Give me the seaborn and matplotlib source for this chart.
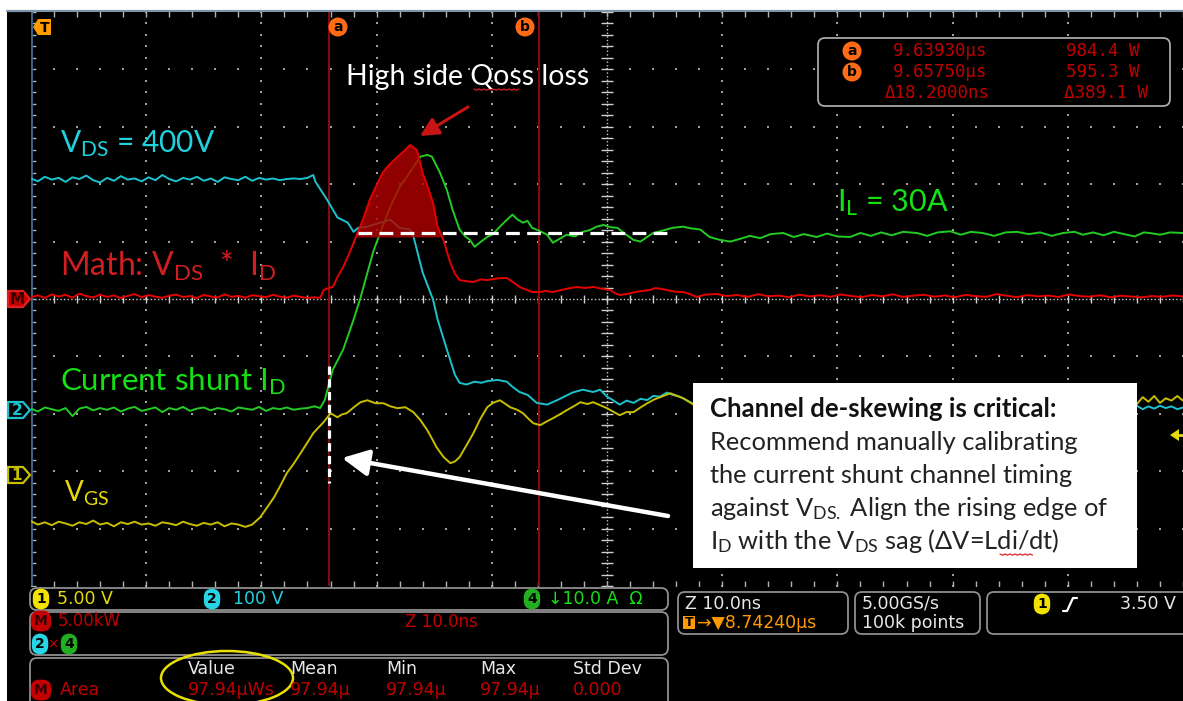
import numpy as np
import pandas as pd
import matplotlib
matplotlib.use("Agg")
import matplotlib.pyplot as plt
import seaborn as sns
from matplotlib.patches import Rectangle, FancyBboxPatch, Ellipse, Polygon

# ---------------- scope settings ----------------
t_left = 9613.4          # ns at left edge of graticule
ns_per_div = 10.0
ch_scale = {"vgs": 5.0, "vds": 100.0, "id": 10.0, "math": 5000.0}
ch_offset = {"vgs": -3.07, "vds": -1.93, "id": -1.93, "math": 0.0}   # ground level, divisions

cursor_us = [9.63930, 9.65750]
cursor_w = [984.4, 595.3]
area_floor_w = 5400
il_level = 30.8

# ---------------- captured waveforms (time in ns) ----------------
pre_t = [9613.4, 9614.0, 9614.6, 9615.2, 9615.8, 9616.4, 9617.0, 9617.6, 9618.2, 9618.8,
         9619.4, 9620.0, 9620.6, 9621.2, 9621.8, 9622.4, 9623.0, 9623.6, 9624.2, 9624.8,
         9625.4, 9626.0, 9626.6, 9627.2, 9627.8, 9628.4, 9629.0, 9629.6, 9630.2, 9630.8,
         9631.4, 9632.0, 9632.6, 9633.2, 9633.8, 9634.4, 9635.0, 9635.6, 9636.2, 9636.8,
         9637.4, 9638.0]

# VDS (V)
vds_t = pre_t[:40] + [
    9637.4, 9637.9, 9638.1, 9639.1, 9640.0, 9640.9, 9641.4, 9641.8, 9642.6, 9643.7,
    9644.6, 9645.4, 9646.3, 9646.6, 9647.4, 9648.3, 9648.7, 9649.5, 9650.2, 9650.6,
    9651.2, 9651.9, 9652.5, 9653.0, 9653.9, 9654.7, 9655.2, 9655.8, 9656.5, 9657.3,
    9658.2, 9659.1, 9659.8, 9660.4, 9661.3, 9662.2, 9662.8, 9663.4, 9663.9, 9664.5,
    9665.1, 9665.7, 9666.3, 9666.9, 9667.4, 9668.0, 9668.6, 9669.1, 9669.7, 9670.3,
    9671.0, 9672.0, 9675.0, 9680.0, 9690.0, 9700.0, 9708.8, 9709.4, 9709.9, 9710.4,
    9710.9, 9711.4, 9711.9, 9712.4, 9712.9, 9713.4]
vds_v = [403, 398, 406, 401, 404, 397, 405, 402, 408, 400,
         396, 404, 399, 407, 401, 403, 398, 405, 400, 409,
         402, 398, 404, 401, 406, 399, 403, 397, 405, 402,
         400, 406, 399, 404, 401, 403, 400, 402, 403, 402,
         404, 409, 397, 366, 335, 326, 310, 317, 319, 326,
         331, 317, 314, 302, 239, 192, 157, 105, 61, 47,
         44, 49, 47, 50, 52, 49, 40, 31, 26, 12,
         9, 17, 24, 30, 35, 31, 35, 23, 17, 9,
         16, 12, 19, 17, 24, 23, 30, 26, 23, 17,
         9, 14, 10, 8, 6, 5, 4, 7, 1, 6,
         2, 7, 3, 6, 1, 4]

# ID (A)
id_t = pre_t + [
    9638.5, 9638.9, 9639.6, 9640.5, 9641.4, 9642.0, 9642.6, 9643.1, 9643.7, 9644.6,
    9645.4, 9646.0, 9646.6, 9647.2, 9647.8, 9648.2, 9648.9, 9649.5, 9650.0, 9650.6,
    9651.1, 9651.5, 9651.9, 9652.4, 9653.0, 9653.5, 9654.1, 9654.6, 9655.2, 9655.6,
    9656.1, 9656.5, 9656.9, 9657.5, 9658.2, 9658.7, 9659.3, 9659.9, 9660.6, 9661.3,
    9661.9, 9662.5, 9663.1, 9663.7, 9664.3, 9665.0, 9665.7, 9666.3, 9666.8, 9667.4,
    9668.2, 9669.1, 9670.0, 9670.7, 9671.5, 9672.3, 9673.2, 9674.1, 9675.0, 9675.8,
    9676.7, 9677.6, 9678.7, 9679.6, 9680.5, 9681.6, 9682.5, 9683.4, 9684.5, 9685.4,
    9686.3, 9687.2, 9688.1, 9689.1, 9690.3, 9691.2, 9692.1, 9693.2, 9694.1, 9695.0,
    9696.0, 9697.0, 9698.0, 9699.0, 9700.0, 9701.0, 9702.0, 9703.0, 9704.0, 9704.7,
    9705.6, 9706.5, 9707.4, 9708.3, 9709.2, 9710.0, 9710.5, 9711.4, 9712.3, 9713.4]
id_a = [0.2, -0.3, 0.4, 0.1, -0.2, 0.3, -1.1, 0.2, 0.5, -0.1,
        0.3, 0.0, 0.4, -0.3, 0.2, 0.5, -0.2, 0.1, 0.4, -0.4,
        0.3, 0.0, 0.5, -0.2, 0.2, 0.4, -0.1, 0.3, 0.1, -0.3,
        0.4, 0.2, 0.0, 0.5, -0.2, 0.3, 0.1, 0.4, 0.0, 0.2,
        0.3, 0.6,
        0.3, 1.7, 7.0, 10.5, 15.7, 19.5, 23.9, 27.5, 30.8, 35.4,
        38.8, 40.5, 42.3, 44.1, 44.4, 44.1, 41.3, 38.3, 34.8, 31.4,
        30.2, 29.6, 28.4, 29.2, 30.1, 30.6, 31.9, 32.9, 34.0, 33.2,
        32.6, 32.9, 31.7, 31.2, 30.5, 29.1, 29.8, 30.5, 30.2, 31.0,
        31.3, 31.9, 32.2, 31.8, 31.7, 30.6, 29.6, 29.3, 30.0, 30.8,
        31.2, 31.7, 31.9, 31.6, 31.4, 30.1, 29.6, 29.3, 29.8, 30.3,
        29.9, 30.6, 30.8, 30.1, 30.6, 30.1, 30.7, 30.2, 30.1, 30.8,
        30.3, 30.9, 30.4, 31.0, 30.8, 30.3, 30.9, 31.1, 30.5, 31.0,
        30.8, 30.3, 30.9, 31.0, 30.6, 30.9, 30.3, 30.8, 31.0, 30.5,
        30.9, 30.4, 31.0, 30.6, 30.2, 30.9, 30.8, 30.5, 30.9, 30.8]

# Math VDS*ID (W)
math_t = pre_t + [
    9638.5, 9638.8, 9639.3, 9639.6, 9640.0, 9640.5, 9641.0, 9641.4, 9641.8, 9642.2,
    9642.8, 9643.3, 9643.9, 9644.5, 9645.2, 9645.8, 9646.3, 9646.9, 9647.4, 9647.9,
    9648.3, 9648.7, 9649.2, 9649.8, 9650.2, 9650.6, 9651.2, 9651.8, 9652.4, 9653.0,
    9653.9, 9654.7, 9655.2, 9655.8, 9656.4, 9656.9, 9657.5, 9658.1, 9658.7, 9659.5,
    9660.2, 9660.8, 9661.5, 9662.2, 9662.9, 9663.7, 9664.1, 9664.5, 9665.2, 9665.9,
    9666.5, 9667.1, 9667.6, 9668.2, 9668.7, 9669.3, 9670.0, 9670.6, 9671.2, 9671.9,
    9672.9,
    9673.8, 9674.7, 9675.6, 9676.5, 9677.4, 9678.3, 9679.2, 9680.1, 9681.0, 9681.9,
    9682.8, 9683.7, 9684.6, 9685.5, 9686.4, 9687.3, 9688.2, 9689.1, 9690.0, 9690.9,
    9691.8, 9692.7, 9693.6, 9694.5, 9695.4, 9696.3, 9697.2, 9698.1, 9699.0, 9699.9,
    9700.8, 9701.7, 9702.6, 9703.5, 9704.4, 9705.3, 9706.2, 9707.1, 9708.0, 9708.9,
    9709.8, 9710.7, 9711.6, 9712.5, 9713.4]
math_w = [150, 320, 90, 410, 210, 360, 120, 460, 260, 130,
          390, 180, 310, 90, 270, 430, 160, 340, 210, 100,
          290, 390, 170, 260, 80, 350, 220, 130, 400, 190,
          280, 110, 330, 240, 150, 380, 200, 120, 300, 180,
          90, 150,
          100, 780, 984, 1050, 1900, 2800, 3900, 4880, 5900, 6880,
          8620, 9700, 10970, 11700, 12370, 12900, 13410, 12980, 10970, 9600,
          8360, 6270, 5140, 3140, 2200, 1650, 1550, 1480, 1700, 1650,
          1800, 1830, 1500, 1050, 800, 610, 595, 700, 610, 800,
          950, 1050, 960, 1050, 900, 780, 500, 350, 450, 620,
          700, 780, 950, 870, 760, 640, 610, 430, 170, 380,
          440,
          260, 350, 180, 420, 240, 300, 150, 380, 220, 330,
          190, 400, 260, 160, 350, 230, 410, 180, 290, 370,
          200, 310, 150, 360, 250, 190, 420, 280, 160, 340,
          230, 300, 180, 390, 260, 200, 330, 150, 280, 220,
          140, 260, 190, 310, 220]

# VGS (V)
vgs_t = pre_t[:31] + [
    9632.0, 9632.6, 9633.3, 9633.9, 9634.5, 9635.0, 9635.6, 9636.2, 9636.8, 9637.3,
    9637.9, 9638.4, 9638.8, 9639.4, 9640.0, 9640.4, 9640.8, 9641.4, 9642.0, 9642.6,
    9643.3, 9644.0, 9644.6, 9645.2, 9645.9, 9646.6, 9647.2, 9647.8, 9648.2, 9648.6,
    9649.2, 9649.8, 9650.2, 9650.6, 9651.2, 9651.8, 9652.4, 9653.0, 9653.5, 9654.1,
    9654.6, 9655.0, 9655.6, 9656.1, 9656.6, 9657.0, 9657.6, 9658.2, 9658.7, 9659.3,
    9659.9, 9660.5, 9661.1, 9661.7, 9662.2, 9662.8, 9663.4, 9664.0, 9664.5, 9665.1,
    9665.7, 9666.3, 9666.9, 9667.5, 9668.0, 9668.9, 9669.5, 9670.0, 9670.5, 9671.0,
    9672.0, 9680.0, 9690.0, 9700.0, 9708.8, 9709.4, 9709.9, 9710.4, 9710.9, 9711.4,
    9711.9, 9712.4, 9712.9, 9713.4]
vgs_v = [-4.0, -4.3, -4.1, -4.35, -4.05, -4.2, -4.4, -4.1, -4.25, -3.95,
         -4.3, -4.15, -4.45, -4.1, -4.25, -4.05, -4.3, -4.2, -4.4, -4.1,
         -4.2, -4.35, -4.05, -4.25, -4.4, -4.15, -4.3, -4.1, -4.45, -4.2,
         -4.3,
         -4.5, -4.3, -3.66, -2.8, -1.92, -1.0, 0.17, 1.0, 1.92, 2.7,
         3.66, 4.2, 4.62, 5.40, 5.05, 5.3, 5.40, 5.9, 6.36, 6.53,
         6.27, 6.27, 6.0, 5.84, 5.92, 5.49, 4.8, 3.92, 3.2, 2.44,
         1.6, 1.05, 1.2, 1.57, 2.6, 3.66, 4.9, 5.92, 6.3, 6.53,
         6.2, 5.92, 5.7, 5.40, 4.9, 4.53, 4.36, 4.7, 4.96, 5.3,
         5.66, 6.0, 6.36, 6.2, 6.36, 6.1, 5.84, 5.5, 5.23, 5.5,
         5.49, 5.9, 6.27, 6.6, 6.79, 7.14, 6.9, 6.71, 6.4, 6.10,
         6.4, 6.5, 6.5, 6.4, 6.5, 6.2, 6.8, 6.4, 6.9, 6.3,
         6.7, 6.5, 6.9, 6.5]

# ---------------- colours ----------------
CY, CY_T = "#1cc2cf", "#1fd2de"
GR, GR_T = "#22cc22", "#14e014"
YE, YE_T = "#c8be00", "#e6da0a"
RD, RD_T = "#e60000", "#d21e1e"
CUR = "#8c0a0a"
GRID = "#a0a0a0"
ORANGE = "#ff6a14"

sns.set_theme(style="dark")
plt.rcParams["font.family"] = ["Lato", "DejaVu Sans"]
plt.rcParams["mathtext.fontset"] = "custom"
plt.rcParams["mathtext.rm"] = "Lato"
plt.rcParams["mathtext.it"] = "Lato:italic"
plt.rcParams["mathtext.bf"] = "Lato:bold"

W, H = 1183, 701
fig = plt.figure(figsize=(W / 100, H / 100), dpi=100, facecolor="white")

bg = fig.add_axes([0, 0, 1, 1], zorder=0)
bg.set_xlim(0, W); bg.set_ylim(H, 0); bg.axis("off")
bg.add_patch(Rectangle((7, 10), W - 7, H - 10, fc="black", ec="none"))
bg.plot([7, W], [10.5, 10.5], color="#7d93aa", lw=1.6)

ax = fig.add_axes([31 / W, (H - 586) / H, (W - 31) / W, (586 - 12) / H], zorder=1)
ax.set_facecolor("black")
t_right = t_left + 10 * ns_per_div

# graticule
ys = np.arange(-5, 5.001, 0.2)
xs = t_left + np.arange(0, 100.001, 2)
for k in range(1, 10):
    if k != 5:
        ax.scatter(np.full_like(ys, t_left + k * ns_per_div), ys, s=2.2, marker="s",
                   color=GRID, linewidths=0, zorder=1)
for j in range(-4, 5):
    if j != 0:
        ax.scatter(xs, np.full_like(xs, j), s=2.2, marker="s", color=GRID, linewidths=0, zorder=1)
t_mid = t_left + 5 * ns_per_div
ax.axhline(0, color="#c8c8c8", lw=1.0, ls=(0, (1, 1.6)), zorder=1)
ax.axvline(t_mid, color="#c8c8c8", lw=1.0, ls=(0, (1, 1.6)), zorder=1)
ax.plot(xs, np.zeros_like(xs), ls="none", marker="|", ms=6, mew=1, color="#d0d0d0", zorder=1)
ax.plot(np.full_like(ys, t_mid), ys, ls="none", marker="_", ms=8, mew=1, color="#d0d0d0", zorder=1)
ax.plot(xs, np.full_like(xs, 5), ls="none", marker="|", ms=7, mew=1, color="#b0b0b0", zorder=1)
ax.plot(xs, np.full_like(xs, -5), ls="none", marker="|", ms=7, mew=1, color="#b0b0b0", zorder=1)
ax.plot(np.full_like(ys, t_left), ys, ls="none", marker="_", ms=7, mew=1, color="#b0b0b0", zorder=1)
ax.axvline(t_left, color="#3f5f80", lw=2.2, zorder=1)

# cursors
cursor_t = [c * 1000 for c in cursor_us]
for ct in cursor_t:
    ax.axvline(ct, color=CUR, lw=1.4, zorder=1.5)


def to_div(key, values):
    return np.asarray(values, dtype=float) / ch_scale[key] + ch_offset[key]


traces = [("vds", vds_t, vds_v, CY, 2.0),
          ("vgs", vgs_t, vgs_v, YE, 2.1),
          ("id", id_t, id_a, GR, 2.2),
          ("math", math_t, math_w, RD, 4.0)]
frames = {}
for key, t, v, col, z in traces:
    df = pd.DataFrame({"t": t, "div": to_div(key, v)})
    frames[key] = df
    sns.lineplot(data=df, x="t", y="div", ax=ax, color=col, lw=1.4,
                 estimator=None, sort=False, zorder=z)

m = frames["math"]
floor = area_floor_w / ch_scale["math"] + ch_offset["math"]
ax.fill_between(m["t"], m["div"], floor, where=m["div"] >= floor, interpolate=True,
                color="#b40000", alpha=0.8, lw=0, zorder=3)

# de-skew guide lines
il_div = il_level / ch_scale["id"] + ch_offset["id"]
ax.plot([9641.8, 9668.7], [il_div, il_div], color="white", lw=2.3, dashes=(4.3, 2.3), zorder=5)
ax.plot([cursor_t[0], cursor_t[0]], [-1.17, -3.21], color="white", lw=2.3, dashes=(2.6, 1.4), zorder=5)

ax.set_xlim(t_left, t_right)
ax.set_ylim(-5, 5)
ax.set_xticks([]); ax.set_yticks([])
ax.set_xlabel(""); ax.set_ylabel("")
for s in ax.spines.values():
    s.set_visible(False)

# ---------------- overlay (pixel units) ----------------
ov = fig.add_axes([0, 0, 1, 1], zorder=2)
ov.set_xlim(0, W); ov.set_ylim(H, 0); ov.axis("off")

SCOPE = "DejaVu Sans"
MONO = "DejaVu Sans Mono"


def badge(x, y, s, fc, tc="black", ec=None, size=10, style="round,pad=0.18,rounding_size=0.55"):
    ov.text(x, y, s, ha="center", va="center", color=tc, fontsize=size, family=SCOPE,
            fontweight="bold",
            bbox=dict(boxstyle=style, fc=fc, ec=ec or fc, lw=1.2))


def rbox(x0, y0, x1, y1, ec="#8e8e8e"):
    ov.add_patch(FancyBboxPatch((x0, y0), x1 - x0, y1 - y0,
                                boxstyle="round,pad=0,rounding_size=7",
                                fc="black", ec=ec, lw=1.3))


def squiggle(x0, x1, y):
    xx = np.arange(x0, x1 + 0.1, 2.5)
    ov.plot(xx, y + 1.2 * (np.arange(len(xx)) % 2), color="#e02020", lw=0.9)


# top markers
ov.add_patch(Polygon([(33, 27), (38, 19), (51, 19), (51, 35), (38, 35)], fc="#ff9a00", ec="none"))
ov.text(44.5, 27.5, "T", ha="center", va="center", fontsize=10, fontweight="bold", family=SCOPE, color="black")
for xc, s in [(338, "a"), (525, "b")]:
    badge(xc, 27, s, ORANGE, size=10, style="circle,pad=0.12")

# channel ground markers
for yc, s, fc, ec, tc in [(299, "M", "#c40000", "#e02020", "#3a0000"),
                          (410, "2", "black", CY, CY),
                          (475, "1", "black", YE, YE)]:
    ov.add_patch(Polygon([(8, yc - 8), (23, yc - 8), (30, yc), (23, yc + 8), (8, yc + 8)],
                         fc=fc, ec=ec, lw=1.6))
    ov.text(17, yc + 0.5, s, ha="center", va="center", color=tc, fontsize=11, family=SCOPE, fontweight="bold")

# trigger level marker (right edge)
trig_y = 299 - (3.50 / ch_scale["vgs"] + ch_offset["vgs"]) * 57.4
ov.add_patch(Polygon([(1170, trig_y), (1179, trig_y - 6), (1179, trig_y + 6)], fc=YE_T, ec="none"))
ov.plot([1179, 1183], [trig_y, trig_y], color=YE_T, lw=2)

# channel labels
ov.text(346, 85, "High side Qoss loss", color="white", fontsize=20.5)
squiggle(474, 520, 89)
ov.text(60, 152, r"V$_{\mathrm{DS}}$ = 400V", color=CY_T, fontsize=21.5)
ov.text(837, 211, r"I$_{\mathrm{L}}$ = 30A", color=GR_T, fontsize=22)
ov.text(60, 276, r"Math: V$_{\mathrm{DS}}$  *  I$_{\mathrm{D}}$", color=RD_T, fontsize=23)
ov.text(60, 390, r"Current shunt I$_{\mathrm{D}}$", color=GR_T, fontsize=22.5)
ov.text(64, 502, r"V$_{\mathrm{GS}}$", color=YE_T, fontsize=20)

ov.annotate("", xy=(420, 136), xytext=(468, 107),
            arrowprops=dict(arrowstyle="-|>,head_length=0.7,head_width=0.35", color="#c81414",
                            lw=2.2, shrinkA=0, shrinkB=0, mutation_scale=16))
ov.annotate("", xy=(342, 458), xytext=(668, 516),
            arrowprops=dict(arrowstyle="-|>,head_length=0.8,head_width=0.4", color="white",
                            lw=3.2, shrinkA=0, shrinkB=0, mutation_scale=20))

# note box
ov.add_patch(Rectangle((693, 383), 444, 185, fc="white", ec="none"))
note = ["Recommend manually calibrating",
        "the current shunt channel timing",
        r"against V$_{\mathrm{DS.}}$ Align the rising edge of",
        r"I$_{\mathrm{D}}$ with the V$_{\mathrm{DS}}$ sag (ΔV=Ldi/dt)"]
ov.text(710, 417, "Channel de-skewing is critical:", color="#111111", fontsize=18.5, fontweight="bold")
for i, line in enumerate(note):
    ov.text(710, 450 + 33 * i, line, color="#222222", fontsize=18.3)
squiggle(1000, 1034, 554)

# cursor readout
rbox(818, 38, 1170, 106, ec="#a8a8a8")
RO = "#c00000"
badge(852, 51, "a", ORANGE, size=10, style="circle,pad=0.12")
badge(852, 72, "b", ORANGE, size=10, style="circle,pad=0.12")
for i, (cu, cw) in enumerate(zip(cursor_us, cursor_w)):
    ov.text(893, 51 + 21 * i, f"{cu:.5f}μs", color=RO, fontsize=12.5, family=MONO, va="center")
    ov.text(1140, 51 + 21 * i, f"{cw:.1f} W", color=RO, fontsize=12.5, family=MONO, va="center", ha="right")
dt_ns = (cursor_us[1] - cursor_us[0]) * 1000
ov.text(885, 93, f"Δ{dt_ns:.4f}ns", color=RO, fontsize=12.5, family=MONO, va="center")
ov.text(1148, 93, f"Δ{cursor_w[0] - cursor_w[1]:.1f} W", color=RO, fontsize=12.5, family=MONO,
        va="center", ha="right")

# ---------------- bottom status panel ----------------
rbox(30, 588, 668, 610)
rbox(30, 612, 668, 655)
rbox(30, 658, 668, 712)
rbox(678, 592, 848, 634)
rbox(855, 592, 980, 634)
rbox(987, 592, 1195, 634)

badge(41, 599, "1", "#f2e200", size=10)
ov.text(57, 599, "5.00 V", color=YE_T, fontsize=12.5, family=SCOPE, va="center")
badge(212, 599, "2", "#26d4e4", size=10)
ov.text(233, 599, "100 V", color=CY_T, fontsize=12.5, family=SCOPE, va="center")
badge(532, 599, "4", "#22b022", size=10)
ov.text(548, 599, "↓10.0 A  Ω", color=GR_T, fontsize=12.5, family=SCOPE, va="center")

badge(41, 621, "M", "#c40000", tc="#3a0000", size=10)
ov.text(58, 621, "5.00kW", color=RO, fontsize=12, family=SCOPE, va="center")
ov.text(405, 622, "Z 10.0ns", color=RO, fontsize=12, family=SCOPE, va="center")
badge(40, 644, "2", "#26d4e4", size=10)
ov.text(53, 644, "×", color=RO, fontsize=10, family=SCOPE, va="center", ha="center")
badge(69, 644, "4", "#22b022", size=10)

stats_cols = [188, 290, 386, 480, 573]
stats_head = ["Value", "Mean", "Min", "Max", "Std Dev"]
stats_vals = ["97.94μWs", "97.94μ", "97.94μ", "97.94μ", "0.000"]
for x, hd, vl in zip(stats_cols, stats_head, stats_vals):
    ov.text(x, 669, hd, color="#e8e8e8", fontsize=12.5, family=SCOPE, va="center")
    ov.text(x, 690, vl, color=RO, fontsize=12.5, family=SCOPE, va="center")
badge(41, 690, "M", "#c40000", tc="#3a0000", size=10)
ov.text(60, 690, "Area", color=RO, fontsize=12.5, family=SCOPE, va="center")
ov.add_patch(Ellipse((227, 678), 132, 54, fc="none", ec="#e8e000", lw=1.8))

ov.text(685, 604, "Z 10.0ns", color="#e8e8e8", fontsize=12.5, family=SCOPE, va="center")
ov.add_patch(Rectangle((683, 616), 12, 13, fc="#ff9a00", ec="none"))
ov.text(689, 622.5, "T", color="black", fontsize=9, family=SCOPE, fontweight="bold", ha="center", va="center")
ov.text(697, 623, "→▼8.74240μs", color="#ff9a00", fontsize=12.5, family=SCOPE, va="center")
ov.text(862, 604, "5.00GS/s", color="#e8e8e8", fontsize=12.5, family=SCOPE, va="center")
ov.text(862, 623, "100k points", color="#e8e8e8", fontsize=12.5, family=SCOPE, va="center")
badge(1042, 604, "1", "#f2e200", size=10)
ov.plot([1063, 1067, 1073, 1077], [611, 611, 598, 598], color="white", lw=1.6)
ov.text(1176, 604, "3.50 V", color="#e8e8e8", fontsize=12.5, family=SCOPE, va="center", ha="right")

fig.savefig("out.png", dpi=100, facecolor="white")
